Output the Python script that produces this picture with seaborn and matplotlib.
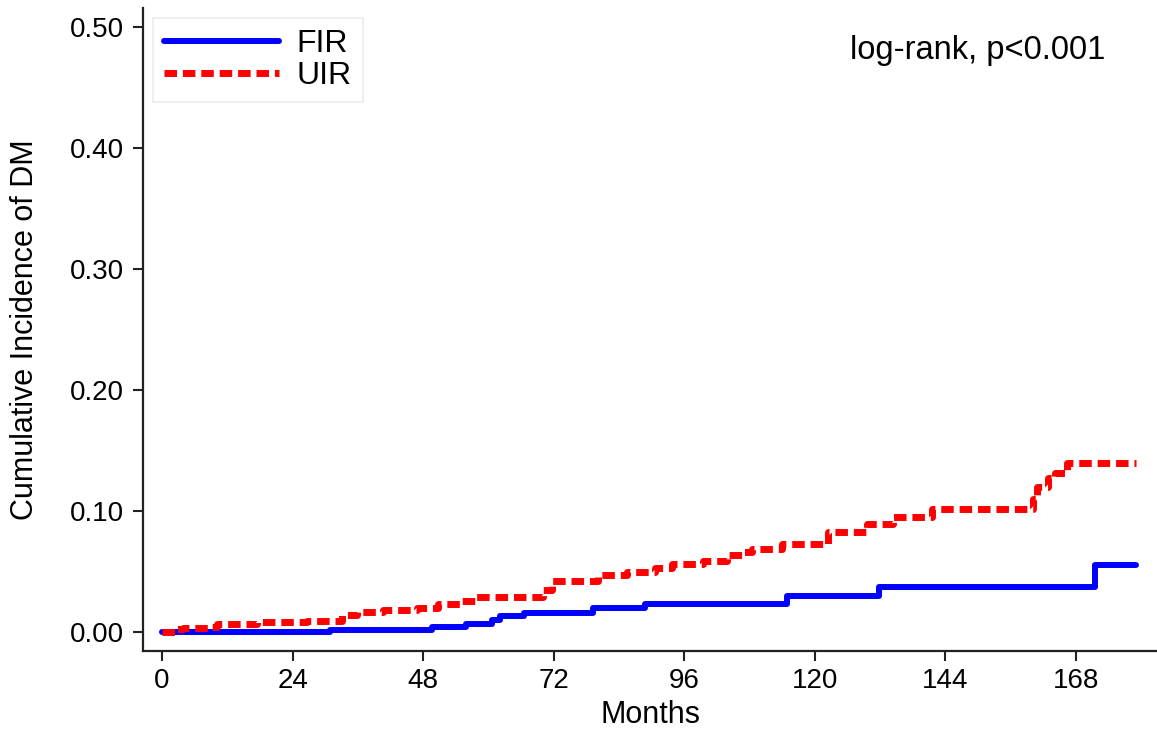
import matplotlib
matplotlib.use("Agg")
import matplotlib.pyplot as plt
import pandas as pd
import seaborn as sns

# step times (months) and cumulative incidence
fir_months = [0, 30.9, 49.6, 55.9, 60.7, 62.1, 66.5, 79.2, 88.8, 114.9, 131.8, 171.5, 179.0]
fir_inc = [0.000, 0.002, 0.004, 0.007, 0.010, 0.013, 0.016, 0.020, 0.023, 0.030, 0.037, 0.055, 0.055]

uir_months = [0, 2.8, 3.9, 8.8, 10.1, 17.5, 26.7, 33.1, 35.8, 40.6, 46.9, 50.7, 54.8,
              57.5, 70.0, 71.7, 80.1, 85.5, 90.6, 93.8, 99.4, 103.9, 106.8, 108.5,
              114.0, 122.4, 129.6, 134.4, 141.5, 160.1, 160.8, 162.9, 164.2, 166.4, 179.0]
uir_inc = [0.000, 0.0025, 0.003, 0.004, 0.0066, 0.008, 0.009, 0.014, 0.0165, 0.018, 0.020,
           0.023, 0.026, 0.029, 0.035, 0.042, 0.047, 0.050, 0.053, 0.056, 0.059, 0.064,
           0.066, 0.069, 0.073, 0.083, 0.089, 0.095, 0.102, 0.110, 0.120, 0.127, 0.131,
           0.140, 0.140]

x_ticks = [0, 24, 48, 72, 96, 120, 144, 168]
y_ticks = [0.0, 0.1, 0.2, 0.3, 0.4, 0.5]

fir = pd.DataFrame({"months": fir_months, "inc": fir_inc})
uir = pd.DataFrame({"months": uir_months, "inc": uir_inc})

sns.set_theme(style="ticks")
plt.rcParams["font.family"] = ["Liberation Sans", "DejaVu Sans"]
plt.rcParams["text.color"] = "black"
plt.rcParams["axes.labelcolor"] = "black"
plt.rcParams["xtick.color"] = "black"
plt.rcParams["ytick.color"] = "black"

fig = plt.figure(figsize=(11.57, 7.29), dpi=100)
ax = fig.add_axes([0.1236, 0.107, 0.8764, 0.882])

sns.lineplot(data=fir, x="months", y="inc", ax=ax, color="#0000ff", linewidth=4.3,
             drawstyle="steps-post", estimator=None, sort=False, label="FIR")
sns.lineplot(data=uir, x="months", y="inc", ax=ax, color="#ff0000", linewidth=5,
             drawstyle="steps-post", estimator=None, sort=False, label="UIR",
             linestyle=(0, (1.8, 0.85)))

ax.set_xlim(-3.5, 182.9)
ax.set_ylim(-0.0157, 0.5157)
ax.set_xticks(x_ticks)
ax.set_yticks(y_ticks)
ax.set_yticklabels([f"{v:.2f}" for v in y_ticks])
ax.tick_params(axis="both", labelsize=20, length=7.5, width=1.5, color="#222222")
ax.tick_params(axis="y", pad=6)
ax.tick_params(axis="x", pad=5)
for side in ["top", "right"]:
    ax.spines[side].set_visible(False)
for side in ["left", "bottom"]:
    ax.spines[side].set_linewidth(1.6)
    ax.spines[side].set_color("#222222")

ax.set_xlabel("Months", fontsize=22, labelpad=4)
ax.set_ylabel("Cumulative Incidence of DM", fontsize=22, labelpad=22)

ax.text(126.5, 0.481, "log-rank, p<0.001", fontsize=23.5, va="center", ha="left")

leg = ax.legend(loc="upper left", bbox_to_anchor=(0.0099, 0.984), borderaxespad=0,
                fontsize=23, handlelength=3.6, handletextpad=0.55, labelspacing=0.05,
                borderpad=0.35, fancybox=False, frameon=True)
leg.get_frame().set_edgecolor("#e4e8ef")
leg.get_frame().set_linewidth(1.2)

fig.savefig("out.png", dpi=100)
